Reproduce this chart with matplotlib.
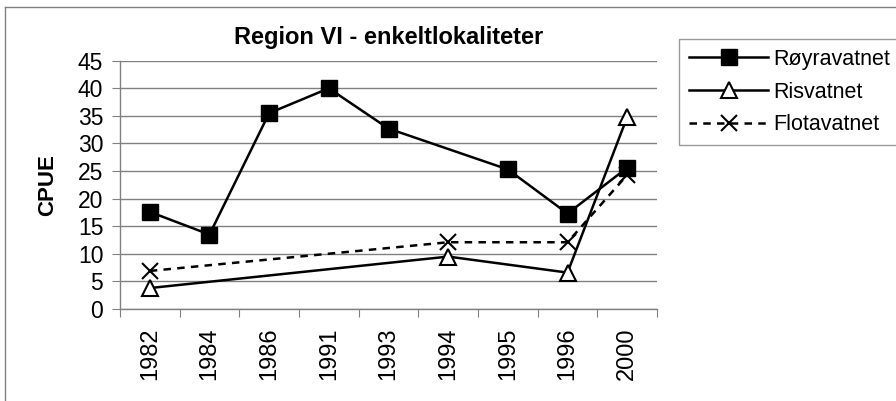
import numpy as np
import matplotlib
matplotlib.use("Agg")
import matplotlib.pyplot as plt
from matplotlib.lines import Line2D

plt.rcParams['font.family'] = ['Liberation Sans', 'DejaVu Sans']

years = ["1982", "1984", "1986", "1991", "1993", "1994", "1995", "1996", "2000"]
royravatnet = [17.6, 13.5, 35.5, 40.0, 32.7, np.nan, 25.3, 17.3, 25.6]
risvatnet = [3.8, np.nan, np.nan, np.nan, np.nan, 9.5, np.nan, 6.6, 34.8]
flotavatnet = [6.9, np.nan, np.nan, np.nan, np.nan, 12.1, np.nan, 12.1, 24.3]
title = "Region VI - enkeltlokaliteter"
ylabel = "CPUE"

fig = plt.figure(figsize=(8.96, 4.01), dpi=100)
ax = fig.add_axes([0.1339, 0.2294, 0.5994, 0.6192])

x = np.arange(len(years))

def plot_series(vals, **kw):
    v = np.array(vals, dtype=float)
    m = ~np.isnan(v)
    return ax.plot(x[m], v[m], **kw)[0]

h1 = plot_series(royravatnet, color='black', lw=1.8, marker='s', markersize=11,
                 markerfacecolor='black', markeredgecolor='black', label='Røyravatnet')
h2 = plot_series(risvatnet, color='black', lw=1.8, marker='^', markersize=11,
                 markerfacecolor='white', markeredgecolor='black', markeredgewidth=1.5,
                 label='Risvatnet')
h3 = plot_series(flotavatnet, color='black', lw=1.8, ls=(0, (3, 2.5)), marker='x', markersize=11,
                 markeredgewidth=1.5, label='Flotavatnet')

ax.set_xlim(-0.5, len(years) - 0.5)
ax.set_ylim(0, 45)
ax.set_yticks(np.arange(0, 46, 5))
ax.yaxis.grid(True, color='#808080', lw=1)
ax.set_axisbelow(True)

ax.set_xticks(np.arange(-0.5, len(years), 1.0))
ax.set_xticklabels([])
ax.set_xticks(x, minor=True)
ax.set_xticklabels(years, minor=True, rotation=90, fontsize=17)
ax.tick_params(axis='x', which='minor', length=0, pad=13)
ax.tick_params(axis='x', which='major', length=6, color='#808080', direction='out')
ax.tick_params(axis='y', length=6, color='#808080', labelsize=16.5, pad=6)

for s in ['top', 'right']:
    ax.spines[s].set_visible(False)
for s in ['left', 'bottom']:
    ax.spines[s].set_color('#808080')
    ax.spines[s].set_linewidth(1)

ax.set_title(title, fontsize=17, fontweight='bold', pad=12)
ax.set_ylabel(ylabel, fontsize=16, fontweight='bold', labelpad=14)

leg = fig.legend(handles=[h1, h2, h3], loc='upper left', bbox_to_anchor=(679/896, 1 - 39/401),
                 fontsize=15.5, handlelength=3.7, handletextpad=0.25, frameon=True,
                 fancybox=False, edgecolor='#808080', borderpad=0.45, labelspacing=0.55,
                 borderaxespad=0)
leg.get_frame().set_linewidth(1)

# outer chart frame (left and top edges visible)
fig.add_artist(Line2D([5/896, 5/896], [0, 1 - 7/401], transform=fig.transFigure, color='#808080', lw=1))
fig.add_artist(Line2D([5/896, 1], [1 - 7/401, 1 - 7/401], transform=fig.transFigure, color='#808080', lw=1))

fig.savefig('out.png', dpi=100)
